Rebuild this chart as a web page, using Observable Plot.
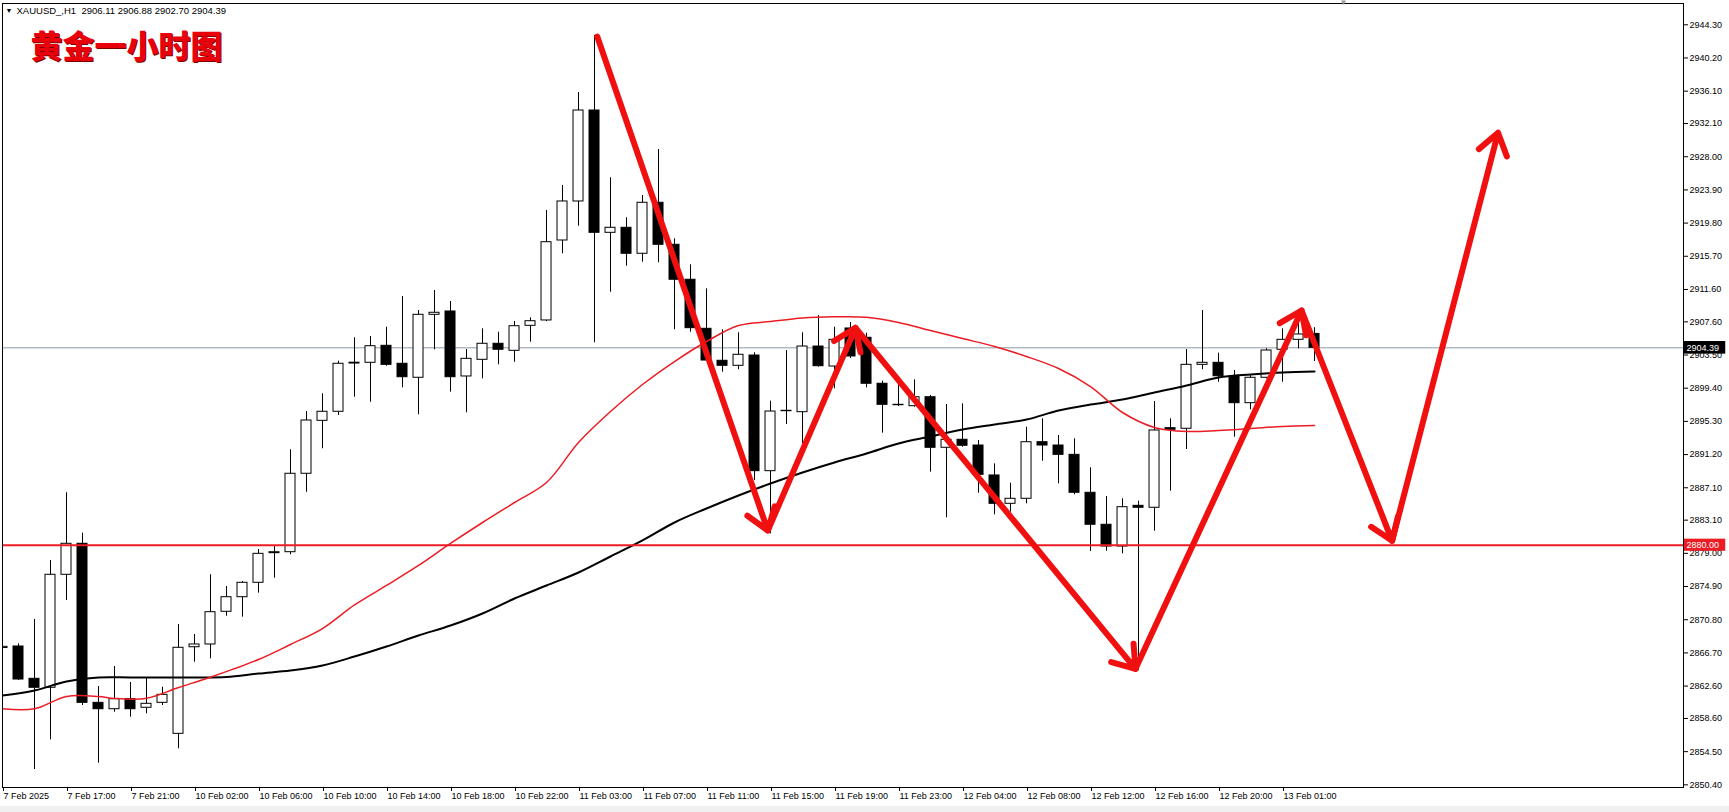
<!DOCTYPE html>
<html><head><meta charset="utf-8">
<script src="https://cdn.jsdelivr.net/npm/d3@7"></script>
<script src="https://cdn.jsdelivr.net/npm/@observablehq/plot@0.6"></script>
<style>
html,body{margin:0;padding:0;background:#fff;}
#chart svg{display:block;}
#strip{height:6px;background:#f0f0f0;width:1729px;}
</style></head><body>
<div id="chart"></div><div id="strip"></div>
<script>
// ---- data (bar index -4 = 7 Feb 13:00, one bar per hour) ----
const firstBar = -4;
const opens  = [2867.30,2867.49,2863.50,2862.39,2876.35,2880.18,2860.53,2859.74,2860.98,2859.92,2860.53,2856.70,2867.40,2867.74,2871.78,2873.58,2875.36,2879.02,2879.14,2888.83,2895.37,2896.49,2902.55,2902.54,2904.64,2902.42,2900.69,2908.47,2908.88,2900.85,2902.91,2904.89,2904.02,2907.11,2907.77,2917.65,2922.47,2933.71,2918.60,2919.22,2916.01,2922.31,2917.12,2912.80,2906.74,2902.79,2902.17,2903.44,2889.15,2896.61,2896.44,2904.55,2902.08,2906.78,2905.63,2899.95,2897.35,2897.18,2898.29,2892.04,2893.03,2892.32,2888.62,2885.12,2885.74,2892.73,2892.32,2891.17,2886.48,2882.53,2879.84,2884.87,2884.63,2894.46,2894.39,2902.29,2902.54,2900.88,2897.55,2900.69,2904.15,2905.38,2906.11];
const highs  = [2868.02,2867.82,2870.83,2878.12,2886.48,2881.49,2862.55,2865.02,2863.04,2863.62,2862.46,2870.21,2868.97,2876.35,2874.90,2875.52,2879.47,2879.84,2891.79,2896.52,2898.71,2902.74,2905.63,2905.79,2906.94,2910.73,2909.00,2911.47,2910.11,2904.18,2906.74,2906.32,2907.64,2908.10,2921.36,2924.45,2935.94,2942.98,2925.40,2920.46,2923.21,2928.89,2917.86,2914.65,2911.68,2906.62,2906.25,2903.78,2897.80,2904.06,2906.25,2908.38,2906.94,2907.52,2906.20,2900.27,2899.95,2900.44,2898.50,2897.39,2897.47,2892.94,2890.06,2887.67,2894.58,2895.62,2893.56,2893.15,2889.57,2886.02,2885.74,2885.44,2897.76,2895.62,2904.18,2909.00,2903.73,2901.59,2900.97,2904.27,2906.74,2907.77,2906.88];
const lows   = [2864.93,2863.30,2852.29,2855.96,2873.17,2860.20,2853.07,2859.37,2858.76,2859.17,2860.20,2854.85,2865.55,2865.97,2871.23,2871.11,2874.08,2875.93,2878.82,2886.55,2891.92,2896.03,2898.29,2897.67,2902.12,2899.45,2896.12,2904.15,2898.91,2896.36,2900.56,2902.29,2902.61,2905.09,2907.64,2916.01,2919.42,2905.01,2911.26,2914.48,2914.97,2914.90,2906.62,2906.32,2902.70,2901.38,2901.68,2888.00,2881.41,2894.92,2892.53,2902.00,2899.33,2903.07,2899.45,2893.84,2897.14,2897.06,2889.03,2883.39,2892.11,2886.43,2883.76,2884.08,2885.12,2890.38,2887.59,2886.23,2879.23,2879.26,2878.94,2864.50,2881.73,2886.68,2891.83,2901.68,2900.14,2893.35,2896.73,2900.56,2900.14,2904.27,2902.70];
const closes = [2867.45,2863.41,2862.39,2876.35,2880.18,2860.53,2859.74,2860.98,2859.74,2860.41,2861.52,2867.33,2867.74,2871.73,2873.58,2875.36,2878.94,2879.14,2888.83,2895.41,2896.49,2902.42,2902.45,2904.59,2902.29,2900.76,2908.47,2908.72,2900.76,2903.03,2904.89,2904.15,2907.06,2907.68,2917.44,2922.47,2933.71,2918.60,2919.22,2916.01,2922.31,2917.12,2912.80,2906.82,2902.82,2902.17,2903.53,2889.15,2896.52,2896.56,2904.55,2902.12,2905.38,2903.32,2899.95,2897.35,2897.30,2898.29,2892.04,2893.03,2892.29,2888.70,2885.12,2885.74,2892.73,2892.32,2891.17,2886.48,2882.53,2879.84,2884.70,2884.63,2894.18,2894.26,2902.29,2902.54,2900.88,2897.55,2900.69,2904.06,2905.38,2906.04,2904.39];

// moving averages (bar index, price)
const redMaBar   = [-4,-2,0,2,3,5,7,9,12,14,16,18,20,22,24,26,28,30,32,34,36,38,40,42,44,46,48,50,52,54,56,58,60,62,64,66,68,70,72,74,76,78];
const redMaPrice = [2859.79,2859.79,2861.31,2861.31,2861.07,2861.10,2862.42,2863.70,2865.88,2867.74,2869.71,2872.62,2875.03,2877.50,2880.22,2882.81,2885.28,2887.75,2892.69,2896.52,2899.86,2902.70,2905.17,2907.15,2907.64,2908.08,2908.22,2908.17,2907.52,2906.53,2905.54,2904.55,2903.32,2901.84,2899.61,2896.40,2894.55,2894.05,2894.18,2894.42,2894.67,2894.80];
const blackMaBar   = [-4,-2,0,2,4,6,8,10,12,14,16,18,20,22,24,26,28,30,32,34,36,38,40,42,44,46,48,50,52,54,56,58,60,62,64,66,68,70,72,74,76,78];
const blackMaPrice = [2861.44,2862.05,2863.17,2863.66,2863.66,2863.66,2863.66,2863.72,2864.15,2864.52,2865.14,2866.25,2867.49,2868.85,2870.08,2871.57,2873.42,2875.02,2876.63,2878.61,2880.59,2882.81,2884.54,2886.15,2887.63,2888.99,2890.22,2891.33,2892.57,2893.43,2894.30,2894.92,2895.53,2896.64,2897.38,2898.00,2898.87,2899.73,2900.72,2901.09,2901.34,2901.46];

// hand-drawn arrow path vertices (bar index, price)
const arrowBar   = [33.17, 43.83, 49.31, 66.81, 77.19, 82.85, 89.47];
const arrowPrice = [2942.85, 2881.82, 2906.86, 2864.73, 2909.00, 2880.55, 2930.96];

const supportLevel = 2880.00;
const lastPrice = 2904.39;

const yTicks = [2944.30,2940.20,2936.10,2932.10,2928.00,2923.90,2919.80,2915.70,2911.60,2907.60,2903.50,2899.40,2895.30,2891.20,2887.10,2883.10,2879.00,2874.90,2870.80,2866.70,2862.60,2858.60,2854.50,2850.40];
const xTickBars = [-4,0,4,8,12,16,20,24,28,32,36,40,44,48,52,56,60,64,68,72,76];
const xTickLabels = ["7 Feb 2025","7 Feb 17:00","7 Feb 21:00","10 Feb 02:00","10 Feb 06:00","10 Feb 10:00","10 Feb 14:00","10 Feb 18:00","10 Feb 22:00","11 Feb 03:00","11 Feb 07:00","11 Feb 11:00","11 Feb 15:00","11 Feb 19:00","11 Feb 23:00","12 Feb 04:00","12 Feb 08:00","12 Feb 12:00","12 Feb 16:00","12 Feb 20:00","13 Feb 01:00"];

const headerText = "XAUUSD_,H1\u00a0\u00a02906.11 2906.88 2902.70 2904.39";
const titleText = "黄金一小时图";

// ---- build tables ----
const candles = opens.map((o, k) => ({i: firstBar + k, open: o, high: highs[k], low: lows[k], close: closes[k]}));
const redMa = redMaBar.map((b, k) => ({i: b, v: redMaPrice[k]}));
const blackMa = blackMaBar.map((b, k) => ({i: b, v: blackMaPrice[k]}));
const arrows = arrowBar.slice(1).map((b, k) => ({x1: arrowBar[k], y1: arrowPrice[k], x2: b, y2: arrowPrice[k + 1]}));
const labelMap = new Map(xTickBars.map((b, k) => [b, xTickLabels[k]]));

const RED = "#ec1c24";
const FONT = "'Liberation Sans', Arial, sans-serif";
const halfBody = 0.3125;
const boxX1 = 101.12, boxX2 = 103.7;

const chart = Plot.plot({
  width: 1729, height: 806,
  marginLeft: 2, marginRight: 46, marginTop: 3, marginBottom: 19,
  style: {background: "white", color: "black", fontFamily: FONT, fontSize: "9px", overflow: "visible"},
  x: {type: "linear", domain: [-4, 101.06]},
  y: {type: "linear", domain: [2850.07, 2946.93]},
  marks: [
    Plot.ruleY([lastPrice], {stroke: "#8c9aa6", strokeWidth: 1}),
    Plot.ruleX(candles, {x: "i", y1: "low", y2: "high", stroke: "black", strokeWidth: 1, clip: true}),
    Plot.rect(candles, {
      x1: d => d.i - halfBody, x2: d => d.i + halfBody,
      y1: "open", y2: "close",
      fill: d => d.close >= d.open ? "white" : "black",
      stroke: "black", strokeWidth: 1, clip: true
    }),
    Plot.line(blackMa, {x: "i", y: "v", stroke: "black", strokeWidth: 2, curve: "catmull-rom", clip: true}),
    Plot.line(redMa, {x: "i", y: "v", stroke: RED, strokeWidth: 1.5, curve: "catmull-rom", clip: true}),
    Plot.ruleY([supportLevel], {stroke: RED, strokeWidth: 2}),
    Plot.arrow(arrows, {x1: "x1", y1: "y1", x2: "x2", y2: "y2", stroke: "#f01010", strokeWidth: 6, headLength: 6.3, headAngle: 70, strokeLinecap: "round", strokeLinejoin: "round"}),
    Plot.frame({stroke: "black", strokeWidth: 1}),
    Plot.axisY(yTicks, {anchor: "right", tickSize: 4, tickPadding: 2, tickFormat: d => d.toFixed(2), fontSize: 9, fontFamily: FONT}),
    Plot.axisX(xTickBars, {anchor: "bottom", tickSize: 4, tickPadding: 1, tickFormat: d => labelMap.get(d), textAnchor: "start", dx: 1, fontSize: 9, fontFamily: FONT}),
    // price boxes on the axis
    Plot.rect([lastPrice], {x1: boxX1, x2: boxX2, y1: d => d - 0.78, y2: d => d + 0.78, fill: "black"}),
    Plot.text([lastPrice], {x: boxX1, y: d => d, text: d => d.toFixed(2), fill: "white", textAnchor: "start", dx: 2, fontSize: 9, fontFamily: FONT}),
    Plot.rect([supportLevel], {x1: boxX1, x2: boxX2, y1: d => d - 0.75, y2: d => d + 0.75, fill: RED}),
    Plot.text([supportLevel], {x: boxX1, y: d => d, text: d => d.toFixed(2), fill: "white", textAnchor: "start", dx: 2, fontSize: 9, fontFamily: FONT}),
    // header and title
    Plot.text(["▼"], {frameAnchor: "top-left", text: d => d, dx: 3, dy: 7, fontSize: 7, textAnchor: "start", lineAnchor: "middle", fill: "black"}),
    Plot.text([headerText], {frameAnchor: "top-left", text: d => d, dx: 14, dy: 7, fontSize: 9.5, textAnchor: "start", lineAnchor: "middle", fill: "black", fontFamily: FONT}),
    Plot.text([titleText], {frameAnchor: "top-left", text: d => d, dx: 29, dy: 45.5, fontSize: 32, fontWeight: 900, textAnchor: "start", lineAnchor: "middle", fill: "#7a0000", fontFamily: "'Noto Sans CJK SC', sans-serif"}),
    Plot.text([titleText], {frameAnchor: "top-left", text: d => d, dx: 28, dy: 44.5, fontSize: 32, fontWeight: 900, textAnchor: "start", lineAnchor: "middle", fill: "#e8000b", fontFamily: "'Noto Sans CJK SC', sans-serif"}),
    Plot.text([79.8], {x: d => d, frameAnchor: "top", text: () => "▼", dy: -4, fontSize: 8, lineAnchor: "top", fill: "#9a9a9a"})
  ]
});
document.getElementById("chart").appendChild(chart);
</script></body></html>
